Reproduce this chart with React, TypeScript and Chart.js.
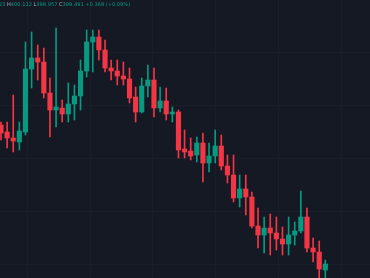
import React, { useEffect, useRef } from "react";
import { Chart, registerables } from "chart.js";

Chart.register(...registerables);

// OHLC values, one per candle (oldest first)
const opens = [
  406.44, 406.09, 405.79, 405.59, 406.09, 409.24, 409.79, 409.59, 408.04, 407.19,
  407.29, 406.99, 407.49, 407.89, 409.14, 410.59, 410.84, 410.19, 409.29, 409.14,
  408.89, 408.74, 407.84, 407.09, 408.39, 408.69, 407.29, 407.64, 406.99, 407.09,
  405.24, 405.14, 404.94, 405.54, 404.54, 404.89, 405.39, 404.39, 403.94, 402.79,
  403.24, 402.84, 401.39, 400.94, 401.29, 401.04, 400.74, 400.49, 400.94, 401.14,
  401.84, 400.29, 400.09, 399.19,
];
const highs = [
  406.59, 406.59, 407.94, 406.59, 410.59, 411.09, 410.44, 410.29, 408.79, 411.29,
  407.69, 408.54, 408.44, 409.69, 411.19, 411.19, 411.19, 410.69, 409.69, 409.69,
  409.59, 409.29, 408.34, 408.79, 409.44, 409.29, 408.34, 408.29, 407.34, 407.19,
  406.19, 405.79, 405.84, 406.04, 405.54, 406.19, 405.94, 404.94, 404.94, 403.94,
  403.94, 403.09, 402.29, 401.84, 401.99, 401.84, 401.34, 401.84, 401.59, 403.14,
  402.29, 400.79, 400.64, 399.69,
];
const lows = [
  405.69, 405.29, 405.09, 405.19, 405.94, 408.29, 408.69, 407.79, 405.84, 406.34,
  406.59, 406.59, 406.69, 407.19, 408.84, 409.09, 409.69, 409.09, 408.69, 408.44,
  408.44, 407.54, 406.59, 407.04, 407.84, 406.84, 407.09, 406.69, 406.59, 404.79,
  404.79, 404.69, 404.59, 403.59, 404.09, 404.54, 404.19, 403.54, 402.59, 402.34,
  401.94, 401.29, 400.29, 400.04, 399.94, 400.19, 399.94, 399.94, 400.44, 401.04,
  400.09, 399.59, 398.69, 398.69,
];
const closes = [
  406.04, 405.79, 405.64, 406.14, 409.24, 409.79, 409.59, 408.04, 407.19, 407.34,
  406.99, 407.49, 407.89, 409.14, 410.59, 410.84, 410.19, 409.29, 409.14, 408.89,
  408.74, 407.79, 407.09, 408.39, 408.69, 407.29, 407.64, 406.99, 407.09, 405.19,
  405.09, 404.89, 405.54, 404.54, 404.89, 405.39, 404.39, 403.94, 402.79, 403.24,
  402.84, 401.39, 400.94, 401.29, 401.04, 400.74, 400.49, 400.94, 401.14, 401.84,
  400.29, 400.09, 399.24, 399.49,
];

// Faint grid positions (in data units)
const gridX = [4.25, 14.5, 24.75, 35, 45.25, 55.5];
const gridY = [410.09, 407.44, 404.79, 402.14, 399.49];

// Legend text pieces
const legendParts: { t: string; c: "label" | "value" }[] = [
  { t: "O", c: "label" },
  { t: "399.123 ", c: "value" },
  { t: "H", c: "label" },
  { t: "400.112 ", c: "value" },
  { t: "L", c: "label" },
  { t: "398.957 ", c: "value" },
  { t: "C", c: "label" },
  { t: "399.491 ", c: "value" },
  { t: "+0.368 (+0.09%)", c: "value" },
];

const UP = "#089981";
const DOWN = "#f23645";
const BG = "#151924";
const GRID = "#1a1e2a";

export default function App() {
  const ref = useRef<HTMLCanvasElement | null>(null);

  useEffect(() => {
    if (!ref.current) return;
    document.body.style.margin = "0";
    const colors = opens.map((o, i) => (closes[i] >= o ? UP : DOWN));

    const gridPlugin = {
      id: "bggrid",
      beforeDatasetsDraw(chart: any) {
        const { ctx, chartArea, scales } = chart;
        ctx.save();
        ctx.strokeStyle = GRID;
        ctx.lineWidth = 1;
        gridX.forEach((v) => {
          const px = Math.round(scales.x.getPixelForValue(v)) + 0.5;
          ctx.beginPath();
          ctx.moveTo(px, chartArea.top);
          ctx.lineTo(px, chartArea.bottom);
          ctx.stroke();
        });
        gridY.forEach((v) => {
          const py = Math.round(scales.y.getPixelForValue(v)) + 0.5;
          ctx.beginPath();
          ctx.moveTo(chartArea.left, py);
          ctx.lineTo(chartArea.right, py);
          ctx.stroke();
        });
        ctx.restore();
      },
    };

    const legendPlugin = {
      id: "ohlcLegend",
      afterDraw(chart: any) {
        const { ctx } = chart;
        ctx.save();
        ctx.font = "5.1px 'DejaVu Sans', sans-serif";
        ctx.textBaseline = "middle";
        const lead = ctx.measureText(legendParts[0].t + legendParts[1].t).width;
        let x = 7 - lead;
        legendParts.forEach((p) => {
          ctx.fillStyle = p.c === "label" ? "#b2b5be" : UP;
          ctx.fillText(p.t, x, 4.5);
          x += ctx.measureText(p.t).width;
        });
        ctx.restore();
      },
    };

    const chart = new Chart(ref.current, {
      type: "bar",
      data: {
        datasets: [
          {
            label: "body",
            data: opens.map((o, i) => ({ x: i, y: [o, closes[i]] })) as any,
            backgroundColor: colors,
            borderWidth: 0,
            barThickness: 4.5,
            grouped: false,
            order: 0,
          } as any,
          {
            label: "wick",
            data: opens.map((_, i) => ({ x: i, y: [lows[i], highs[i]] })) as any,
            backgroundColor: colors,
            borderWidth: 0,
            barThickness: 1,
            grouped: false,
            order: 1,
          } as any,
        ],
      },
      options: {
        responsive: false,
        maintainAspectRatio: false,
        animation: false,
        devicePixelRatio: 1,
        layout: { padding: 0 },
        plugins: { legend: { display: false }, tooltip: { enabled: false } },
        scales: {
          x: { type: "linear", display: false, min: -0.163, max: 60.3, offset: false } as any,
          y: { type: "linear", display: false, min: 398.79, max: 412.69 },
        },
      },
      plugins: [gridPlugin, legendPlugin],
    });
    return () => chart.destroy();
  }, []);

  return (
    <div style={{ position: "fixed", left: 0, top: 0, width: 370, height: 278, background: BG }}>
      <canvas ref={ref} width={370} height={278} style={{ display: "block" }} />
    </div>
  );
}
